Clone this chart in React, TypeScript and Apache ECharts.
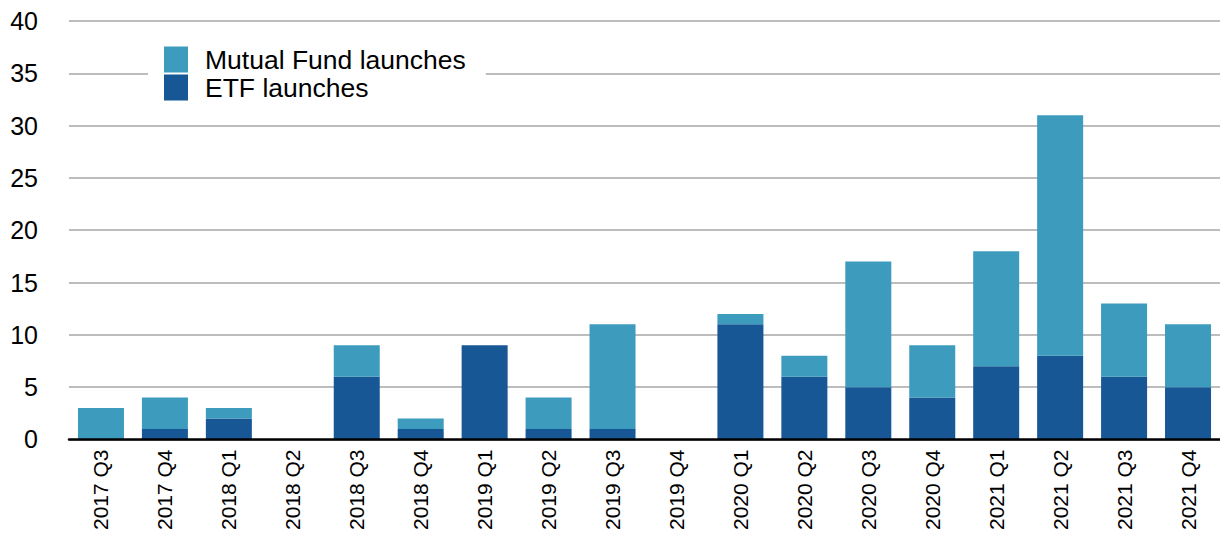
import React, { useEffect, useRef } from "react";
import * as echarts from "echarts";

const categories = [
  "2017 Q3", "2017 Q4", "2018 Q1", "2018 Q2", "2018 Q3", "2018 Q4",
  "2019 Q1", "2019 Q2", "2019 Q3", "2019 Q4", "2020 Q1", "2020 Q2",
  "2020 Q3", "2020 Q4", "2021 Q1", "2021 Q2", "2021 Q3", "2021 Q4",
];
const etfLaunches = [0, 1, 2, 0, 6, 1, 9, 1, 1, 0, 11, 6, 5, 4, 7, 8, 6, 5];
const mutualFundLaunches = [3, 3, 1, 0, 3, 1, 0, 3, 10, 0, 1, 2, 12, 5, 11, 23, 7, 6];
const yTicks = { min: 0, max: 40, interval: 5 };

const FONT = "'Liberation Sans', Arial, sans-serif";

export default function App() {
  const ref = useRef<HTMLDivElement>(null);
  useEffect(() => {
    if (!ref.current) return;
    const chart = echarts.init(ref.current, undefined, { renderer: "svg" });
    chart.setOption({
      animation: false,
      backgroundColor: "#ffffff",
      textStyle: { fontFamily: FONT, color: "#000" },
      grid: { left: 69, top: 21, width: 1155, height: 420, containLabel: false },
      legend: {
        orient: "vertical",
        left: 148,
        top: 32,
        padding: [14, 20, 14, 16],
        backgroundColor: "#ffffff",
        itemWidth: 24,
        itemHeight: 26,
        itemGap: 1,
        icon: "rect",
        data: ["Mutual Fund launches", "ETF launches"],
        textStyle: { fontSize: 26.5, color: "#000", fontFamily: FONT, padding: [0, 0, 0, 12] },
      },
      xAxis: {
        type: "category",
        data: categories,
        axisTick: { show: false },
        axisLine: { show: true, lineStyle: { color: "#000", width: 2.5 } },
        axisLabel: { rotate: 90, fontSize: 21, color: "#000", margin: 10, fontFamily: FONT },
        z: 10,
      },
      yAxis: {
        type: "value",
        min: yTicks.min,
        max: yTicks.max,
        interval: yTicks.interval,
        axisLine: { show: false },
        axisTick: { show: false },
        axisLabel: { fontSize: 25, color: "#000", margin: 31, fontFamily: FONT },
        splitLine: { lineStyle: { color: "#bdbdbd", width: 2 } },
      },
      series: [
        {
          name: "ETF launches",
          type: "bar",
          stack: "total",
          data: etfLaunches,
          barWidth: 46,
          itemStyle: { color: "#175795" },
        },
        {
          name: "Mutual Fund launches",
          type: "bar",
          stack: "total",
          data: mutualFundLaunches,
          barWidth: 46,
          itemStyle: { color: "#3d9bbd" },
        },
      ],
    });
    return () => chart.dispose();
  }, []);
  return (
    <div
      ref={ref}
      style={{ position: "fixed", left: 0, top: 0, width: 1220, height: 533, background: "#fff" }}
    />
  );
}
